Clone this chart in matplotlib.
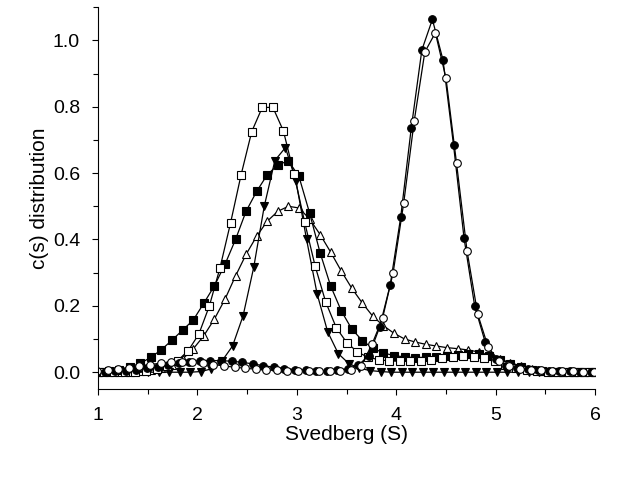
import matplotlib
matplotlib.use("Agg")
import matplotlib.pyplot as plt
from matplotlib.ticker import MultipleLocator

plt.rcParams["font.family"] = ["Liberation Sans", "DejaVu Sans"]

# sedimentation coefficient grid (S)
s_grid = [1.000, 1.106, 1.213, 1.319, 1.426, 1.532, 1.638, 1.745, 1.851, 1.957,
          2.064, 2.170, 2.277, 2.383, 2.489, 2.596, 2.702, 2.809, 2.915, 3.021,
          3.128, 3.234, 3.340, 3.447, 3.553, 3.660, 3.766, 3.872, 3.979, 4.085,
          4.191, 4.298, 4.404, 4.511, 4.617, 4.723, 4.830, 4.936, 5.043, 5.149,
          5.255, 5.362, 5.468, 5.574, 5.681, 5.787, 5.894, 6.000]

# the runs were not sampled on exactly the same grid
s_filled_circle = [s - 0.04 for s in s_grid]
s_open_circle = [s - 0.01 for s in s_grid]
s_filled_tri = [s - 0.03 for s in s_grid]
s_open_square = [s - 0.05 for s in s_grid]

filled_circle = [0.001, 0.002, 0.003, 0.005, 0.008, 0.012, 0.017, 0.022, 0.027, 0.031,
                 0.034, 0.035, 0.035, 0.033, 0.030, 0.025, 0.020, 0.015, 0.011, 0.008,
                 0.006, 0.005, 0.005, 0.006, 0.010, 0.022, 0.050, 0.135, 0.262, 0.467,
                 0.735, 0.971, 1.063, 0.941, 0.684, 0.403, 0.199, 0.090, 0.040, 0.020,
                 0.012, 0.009, 0.007, 0.005, 0.004, 0.003, 0.002, 0.001]

open_circle = [0.003, 0.006, 0.009, 0.013, 0.018, 0.023, 0.027, 0.030, 0.031, 0.030,
               0.027, 0.023, 0.019, 0.015, 0.012, 0.009, 0.007, 0.006, 0.005, 0.004,
               0.004, 0.004, 0.004, 0.005, 0.008, 0.020, 0.084, 0.162, 0.300, 0.509,
               0.757, 0.965, 1.023, 0.886, 0.630, 0.365, 0.175, 0.075, 0.035, 0.018,
               0.011, 0.008, 0.006, 0.005, 0.004, 0.003, 0.002, 0.001]

open_square = [0.000, 0.000, 0.001, 0.001, 0.002, 0.003, 0.009, 0.018, 0.035, 0.065,
               0.115, 0.200, 0.315, 0.450, 0.595, 0.725, 0.798, 0.798, 0.727, 0.598,
               0.453, 0.320, 0.212, 0.134, 0.089, 0.061, 0.045, 0.038, 0.034, 0.033,
               0.033, 0.035, 0.038, 0.042, 0.046, 0.048, 0.047, 0.042, 0.033, 0.022,
               0.013, 0.007, 0.004, 0.002, 0.001, 0.001, 0.000, 0.000]

filled_square = [0.002, 0.004, 0.008, 0.015, 0.027, 0.045, 0.068, 0.097, 0.127, 0.157,
                 0.208, 0.260, 0.325, 0.400, 0.485, 0.545, 0.595, 0.625, 0.637, 0.590,
                 0.480, 0.360, 0.260, 0.185, 0.130, 0.095, 0.072, 0.058, 0.050, 0.046,
                 0.044, 0.045, 0.047, 0.050, 0.053, 0.055, 0.054, 0.048, 0.038, 0.025,
                 0.015, 0.008, 0.004, 0.002, 0.001, 0.000, 0.000, 0.000]

filled_tri = [0.000, 0.000, 0.000, 0.000, 0.000, 0.000, 0.000, 0.000, 0.000, 0.000,
              0.002, 0.010, 0.034, 0.079, 0.170, 0.316, 0.500, 0.638, 0.677, 0.576,
              0.400, 0.236, 0.122, 0.056, 0.026, 0.012, 0.005, 0.002, 0.000, 0.000,
              0.000, 0.000, 0.000, 0.000, 0.000, 0.000, 0.000, 0.000, 0.000, 0.000,
              0.000, 0.000, 0.000, 0.000, 0.000, 0.000, 0.000, 0.000]

open_tri = [0.000, 0.001, 0.001, 0.002, 0.004, 0.007, 0.012, 0.022, 0.040, 0.070,
            0.110, 0.160, 0.220, 0.290, 0.355, 0.410, 0.455, 0.485, 0.500, 0.495,
            0.462, 0.415, 0.362, 0.305, 0.253, 0.208, 0.168, 0.140, 0.117, 0.100,
            0.091, 0.084, 0.079, 0.074, 0.071, 0.067, 0.061, 0.051, 0.039, 0.029,
            0.018, 0.010, 0.005, 0.003, 0.002, 0.001, 0.000, 0.000]

fig = plt.figure(figsize=(6.37, 4.8), dpi=100)
ax = fig.add_axes([0.154, 0.19, 0.780, 0.795])

common = dict(color="black", linewidth=0.9, markersize=5.5, markeredgewidth=0.8,
              markeredgecolor="black")

# triangles first, circles on top
ax.plot(s_grid, open_tri, marker="^", markerfacecolor="white", **common)
ax.plot(s_filled_tri, filled_tri, marker="v", markerfacecolor="black", **common)
ax.plot(s_grid, filled_square, marker="s", markerfacecolor="black", **common)
ax.plot(s_open_square, open_square, marker="s", markerfacecolor="white", **common)
ax.plot(s_filled_circle, filled_circle, marker="o", markerfacecolor="black", **common)
ax.plot(s_open_circle, open_circle, marker="o", markerfacecolor="white", **common)

ax.set_xlim(1, 6)
ax.set_ylim(-0.05, 1.1)
ax.xaxis.set_major_locator(MultipleLocator(1))
ax.xaxis.set_minor_locator(MultipleLocator(0.5))
ax.yaxis.set_major_locator(MultipleLocator(0.2))
ax.yaxis.set_minor_locator(MultipleLocator(0.1))
ax.yaxis.set_major_formatter(plt.FormatStrFormatter("%.1f"))

ax.spines["top"].set_visible(False)
ax.spines["right"].set_visible(False)
ax.tick_params(which="major", direction="out", length=4, width=0.8, labelsize=14)
ax.tick_params(which="minor", direction="out", length=3.5, width=0.8)
ax.tick_params(axis="x", pad=9)
ax.tick_params(axis="y", pad=9)

ax.set_xlabel("Svedberg (S)", fontsize=15, labelpad=1)
ax.set_ylabel("c(s) distribution", fontsize=15, labelpad=3)

fig.savefig("out.png", dpi=100)
